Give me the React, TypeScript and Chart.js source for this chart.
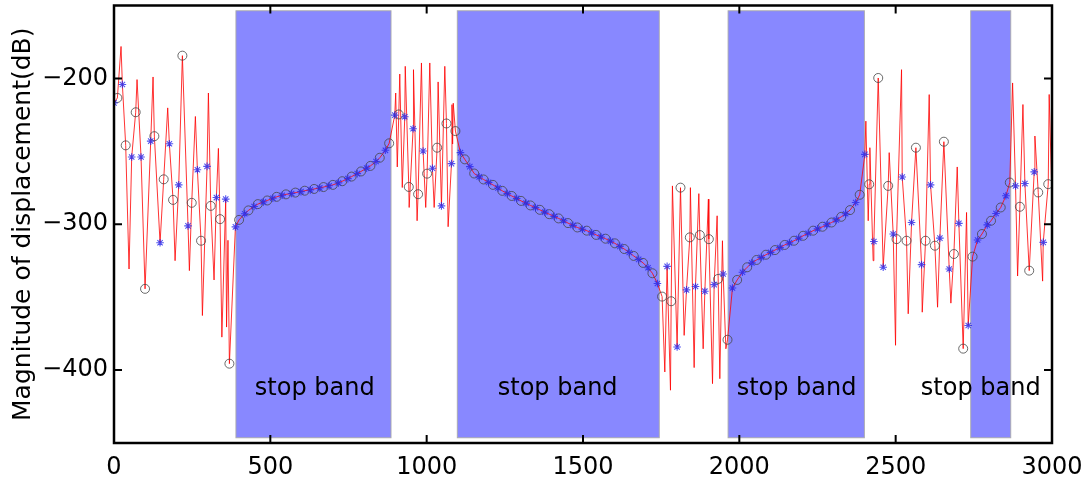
import { useEffect, useRef } from 'react';
import { Chart, registerables } from 'chart.js';

Chart.register(...registerables);

// ---- data ----
const xTicks = [0, 500, 1000, 1500, 2000, 2500, 3000];
const yTicks = [-400, -300, -200];

const bandStart = [390, 1098, 1964, 2740];
const bandEnd = [886, 1744, 2400, 2868];
const bandTop = -153.6;
const bandBottom = -446.4;
const bandLabels = ['stop band', 'stop band', 'stop band', 'stop band'];
const bandLabelX = [642, 1419, 2183, 2772];
const bandLabelY = -413;

const circles: [number, number][] = [
  [10.8, -213.4], [37.4, -245.9], [69.4, -223.2], [99.3, -344.3], [129.1, -239.6], [159, -269.2],
  [188.9, -283.3], [218.7, -184.4], [248.6, -285.3], [278.4, -311.3], [309.4, -287.4], [339.2, -296.5],
  [369.1, -395.6],
  [400, -297], [430, -290.5], [460, -286.2], [490, -283.7], [520, -281.2], [550, -279.5], [580, -278.3],
  [610, -277], [640, -275.8], [670, -274.5], [700, -273], [730, -270.5], [760, -267.3], [790, -263.8],
  [820, -260], [850, -254.4], [880, -244.5],
  [910.8, -224.7], [942.8, -274.4], [972.6, -279.4], [1001.4, -265.3], [1033.4, -247.5], [1063.3, -230.9],
  [1092, -236.1],
  [1122, -255.5], [1152, -265.2], [1182, -269.3], [1212, -273], [1242, -277.1], [1272, -280.6], [1302, -284],
  [1332, -287.1], [1362, -290.1], [1392, -293.1], [1422, -296], [1452, -299.2], [1482, -302.2], [1512, -304.4],
  [1542, -307.3], [1572, -309.9], [1602, -313.1], [1632, -317], [1662, -321.7], [1692, -326.5], [1722, -333.6],
  [1753, -349.6], [1782, -352.8], [1811.8, -274.9], [1841.7, -309], [1873.7, -307.4], [1902.5, -310.2],
  [1932.3, -337.5], [1962.2, -379.2],
  [1993, -338.2], [2025, -329.5], [2055, -324.5], [2085, -320.9], [2114, -317.7], [2145, -314.2], [2175, -311.3],
  [2204, -307.9], [2236, -304.4], [2266, -301.7], [2295, -298.8], [2326, -294.9], [2354, -290.3], [2385, -279.8],
  [2415.4, -272.6], [2444.2, -199.7], [2476.1, -273.7], [2502.8, -310.2], [2534.8, -311.3], [2564.7, -247.5],
  [2595.6, -311.3], [2625.4, -314.7], [2654.2, -243.4], [2686.2, -320.4], [2716, -385.3],
  [2746, -322.2], [2776, -306.7], [2805, -297.6], [2836, -288.5], [2865, -271.4],
  [2897.3, -288], [2927.1, -331.8], [2956, -278.2], [2988, -272.5],
];

const stars: [number, number][] = [
  [0, -216.8], [26.8, -204.2], [56.6, -253.9], [86.5, -253.9], [117.4, -243], [147.3, -312.7], [177.1, -244.8],
  [207, -273], [236.8, -301.1], [266.7, -262.6], [297.6, -260.3], [327.5, -281.7], [357.3, -282.8], [388.3, -301.8],
  [418, -292.8], [448, -287.8], [478, -284.7], [508, -282.2], [538, -280.1], [568, -278.9], [598, -277.6],
  [628, -276.4], [658, -275.1], [688, -273.6], [718, -271.6], [748, -268.7], [778, -265.3], [808, -261.5],
  [838, -257], [868, -249.3],
  [898, -225.2], [930, -226.3], [956.6, -234.5], [988.6, -249.8], [1018.5, -261.6], [1047.3, -287.4],
  [1079.3, -258.4], [1108, -250.9],
  [1138, -260.5], [1168, -267.5], [1198, -271.3], [1228, -275.1], [1258, -279], [1288, -282.3], [1318, -285.5],
  [1348, -288.6], [1378, -291.7], [1408, -294.6], [1438, -297.6], [1468, -300.8], [1498, -303.4], [1528, -305.9],
  [1558, -308.7], [1588, -311.6], [1618, -315.2], [1648, -319.4], [1678, -324.1], [1708, -329.8], [1738, -340.6],
  [1769, -328.9], [1801, -384.2], [1831, -345], [1859.8, -342.7], [1889.7, -345.9], [1919.5, -341.4],
  [1948.3, -334.1], [1978, -343.7],
  [2010, -332.9], [2040, -326.5], [2070, -322.7], [2100, -319.3], [2130, -316], [2160, -312.8], [2190, -309.6],
  [2220, -306.2], [2250, -303.2], [2280, -300.3], [2310, -297], [2340, -292.8], [2372, -285.1],
  [2401.5, -252.1], [2430.3, -311.8], [2460.1, -329.5], [2492.1, -306.7], [2521, -267.6], [2550.8, -298.8],
  [2582.8, -327.7], [2611.6, -273], [2641.4, -309.5], [2671.3, -330.7], [2702.2, -299.4], [2732, -369.4],
  [2762, -310.8], [2793, -300.4], [2821, -292.6], [2852.6, -280.5],
  [2883.4, -273.7], [2913.3, -272.1], [2943.1, -264.1], [2972, -312.4],
];

// peaks and troughs of the fine response between the marked samples
const spikes: [number, number][] = [
  [22.5, -178.1], [48.1, -330.7], [73.7, -200.8], [124.9, -199], [171.8, -220.2], [195.3, -325],
  [241.1, -331.8], [260.3, -226.1], [282.7, -362.6], [301.9, -210], [320, -338.2], [333.9, -248],
  [345, -377.4], [360, -370.5], [364.5, -311],
  [901, -210], [906, -260.7], [914, -197], [922, -274.8], [931.5, -191.7], [944, -288.5], [957.8, -194],
  [969.4, -297.6], [983.3, -189.4], [997, -288.5], [1010, -189.4], [1024, -288.5], [1036.6, -202.4],
  [1058, -191.7], [1068.6, -301.7], [1081, -218], [1083, -245], [1085, -217],
  [1761.7, -401.3], [1779.8, -413.8], [1786, -273.7], [1823.5, -376.2], [1843.5, -274.9], [1855.5, -398.3],
  [1870.5, -279], [1884.3, -385.4], [1901, -282.8], [1914.2, -409.3], [1929, -294.2], [1937.6, -405.9],
  [1946, -311.3], [1957, -385.4],
  [2404.7, -229.3], [2412.2, -297.6], [2417.5, -247.5], [2428, -325], [2479.3, -250.9], [2499.6, -383],
  [2518.8, -194], [2540.1, -361.4], [2585, -360.3], [2607.3, -211.1], [2634, -356.9], [2676.6, -354.1],
  [2696.9, -260.7], [2726.7, -291.9],
  [2874, -203.1], [2890, -335.5], [2907, -217.9], [2945.3, -239.5], [2970, -339], [2991, -211], [3000, -284],
];

const yTitle = 'Magnitude of displacement(dB)';

const FONT = "'DejaVu Sans', sans-serif";

const toXY = (arr: [number, number][]) => arr.map(([x, y]) => ({ x, y }));

export default function App() {
  const ref = useRef<HTMLCanvasElement | null>(null);

  useEffect(() => {
    if (!ref.current) return;
    const line = [...circles, ...stars, ...spikes].sort((a, b) => a[0] - b[0]);

    const decor = {
      id: 'decor',
      beforeDatasetsDraw(chart: any) {
        const { ctx, scales } = chart;
        const x = scales.x, y = scales.y;
        ctx.save();
        for (let i = 0; i < bandStart.length; i++) {
          const l = x.getPixelForValue(bandStart[i]);
          const r = x.getPixelForValue(bandEnd[i]);
          const t = y.getPixelForValue(bandTop);
          const b = y.getPixelForValue(bandBottom);
          ctx.fillStyle = '#8888ff';
          ctx.fillRect(l, t, r - l, b - t);
          ctx.strokeStyle = 'rgba(170,170,170,0.9)';
          ctx.lineWidth = 1;
          ctx.strokeRect(l, t, r - l, b - t);
        }
        ctx.restore();
      },
      afterDatasetsDraw(chart: any) {
        const { ctx, scales } = chart;
        ctx.save();
        ctx.fillStyle = '#000';
        ctx.font = `24px ${FONT}`;
        ctx.textAlign = 'center';
        ctx.textBaseline = 'middle';
        for (let i = 0; i < bandLabels.length; i++) {
          ctx.fillText(bandLabels[i], scales.x.getPixelForValue(bandLabelX[i]), scales.y.getPixelForValue(bandLabelY));
        }
        ctx.restore();
      },
      afterDraw(chart: any) {
        const { ctx, chartArea: a, scales } = chart;
        ctx.save();
        ctx.strokeStyle = '#000';
        ctx.lineWidth = 2.5;
        ctx.strokeRect(a.left, a.top, a.right - a.left, a.bottom - a.top);
        const len = 8;
        ctx.lineWidth = 2;
        ctx.beginPath();
        for (const v of xTicks) {
          const px = scales.x.getPixelForValue(v);
          ctx.moveTo(px, a.bottom); ctx.lineTo(px, a.bottom - len);
          ctx.moveTo(px, a.top); ctx.lineTo(px, a.top + len);
        }
        for (const v of yTicks) {
          const py = scales.y.getPixelForValue(v);
          ctx.moveTo(a.left, py); ctx.lineTo(a.left + len, py);
          ctx.moveTo(a.right, py); ctx.lineTo(a.right - len, py);
        }
        ctx.stroke();
        ctx.restore();
      },
    };

    const chart = new Chart(ref.current, {
      type: 'scatter',
      data: {
        datasets: [
          {
            label: 'response',
            data: toXY(line),
            showLine: true,
            borderColor: 'rgba(255,0,0,0.8)',
            borderWidth: 1,
            pointRadius: 0,
            tension: 0,
            order: 3,
          },
          {
            label: 'circles',
            data: toXY(circles),
            showLine: false,
            pointStyle: 'circle',
            pointRadius: 4.5,
            borderColor: 'rgba(70,70,70,0.8)',
            backgroundColor: 'rgba(0,0,0,0)',
            borderWidth: 1,
            order: 2,
          },
          {
            label: 'stars',
            data: toXY(stars),
            showLine: false,
            pointStyle: 'star',
            pointRadius: 3.8,
            borderColor: 'rgba(40,40,235,0.8)',
            backgroundColor: 'rgba(0,0,0,0)',
            borderWidth: 1.1,
            order: 1,
          },
        ],
      },
      options: {
        animation: false,
        responsive: false,
        devicePixelRatio: 1,
        layout: { padding: { top: 4, right: 35, left: 0, bottom: 0 } },
        plugins: { legend: { display: false }, tooltip: { enabled: false } },
        scales: {
          x: {
            type: 'linear',
            min: 0,
            max: 3000,
            grid: { display: false, drawTicks: false },
            border: { display: false },
            afterBuildTicks: (s: any) => { s.ticks = xTicks.map((v) => ({ value: v })); },
            afterFit: (s: any) => { s.height = 38; s.paddingLeft = 0; s.paddingRight = 0; },
            ticks: {
              color: '#000',
              font: { family: FONT, size: 24 },
              padding: 10,
              maxRotation: 0,
              callback: (v: any) => String(v),
            },
          },
          y: {
            type: 'linear',
            min: -450,
            max: -150,
            grid: { display: false, drawTicks: false },
            border: { display: false },
            afterBuildTicks: (s: any) => { s.ticks = yTicks.map((v) => ({ value: v })); },
            afterFit: (s: any) => { s.width = 114; s.paddingTop = 0; s.paddingBottom = 0; },
            ticks: {
              color: '#000',
              font: { family: FONT, size: 24 },
              padding: 6,
              callback: (v: any) => (Number(v) < 0 ? '\u2212' + Math.abs(Number(v)) : String(v)),
            },
            title: {
              display: true,
              text: yTitle,
              color: '#000',
              font: { family: FONT, size: 25 },
              padding: { top: 8, bottom: 0 },
            },
          },
        },
      },
      plugins: [decor],
    } as any);

    return () => chart.destroy();
  }, []);

  return (
    <div style={{ position: 'fixed', left: 0, top: 0, width: 1087, height: 481, background: '#fff' }}>
      <canvas ref={ref} width={1087} height={481} />
    </div>
  );
}
